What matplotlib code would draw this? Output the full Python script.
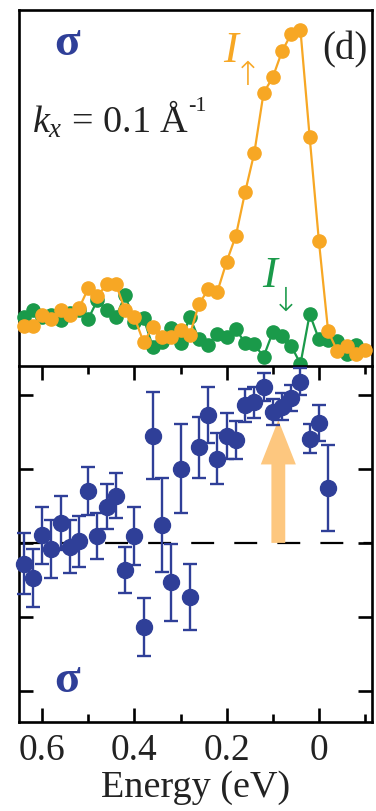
import numpy as np
import matplotlib
matplotlib.use("Agg")
import matplotlib.pyplot as plt
from matplotlib.patches import FancyArrow

plt.rcParams['font.family'] = ['Liberation Serif', 'DejaVu Serif']
plt.rcParams['mathtext.fontset'] = 'custom'
plt.rcParams['mathtext.rm'] = 'Liberation Serif'
plt.rcParams['mathtext.it'] = 'Liberation Serif:italic'
plt.rcParams['lines.scale_dashes'] = False

# ---- spin-resolved intensities (arb. units) ----
energy_top = [0.64, 0.62, 0.60, 0.58, 0.56, 0.54, 0.52, 0.50, 0.48, 0.46,
              0.44, 0.42, 0.40, 0.38, 0.36, 0.34, 0.32, 0.30, 0.28, 0.26,
              0.24, 0.22, 0.20, 0.18, 0.16, 0.14, 0.12, 0.10, 0.08, 0.06,
              0.04, 0.02, 0.00, -0.02, -0.04, -0.06, -0.08, -0.10]
i_up = [11.2, 11.2, 14.3, 13.1, 15.7, 14.3, 16.2, 21.8, 19.7, 22.9,
        23.0, 15.7, 13.7, 6.7, 10.9, 8.1, 8.1, 10.1, 8.7, 17.4,
        21.5, 20.9, 29.3, 36.6, 48.8, 59.9, 76.7, 81.1, 88.4, 93.3,
        94.3, 64.2, 35.0, 9.7, 4.2, 5.6, 3.4, 4.5]
energy_dn = energy_top[:37]
i_down = [13.7, 15.7, 13.7, 14.3, 12.9, 14.8, 15.7, 13.2, 18.5, 15.7,
          13.7, 19.9, 12.4, 13.4, 5.4, 6.8, 10.8, 6.4, 13.8, 7.5,
          5.9, 9.0, 8.2, 10.3, 6.5, 6.1, 2.6, 9.5, 8.4, 5.6,
          0.6, 14.6, 7.5, 7.3, 7.0, 3.4, 5.9]

# ---- spin polarization with error bars ----
energy_pol = [0.64, 0.62, 0.60, 0.58, 0.56, 0.54, 0.52, 0.50, 0.48, 0.46,
              0.44, 0.42, 0.40, 0.38, 0.36, 0.34, 0.32, 0.30, 0.28, 0.26,
              0.24, 0.22, 0.20, 0.18, 0.16, 0.14, 0.12, 0.10, 0.08, 0.06,
              0.04, 0.02, 0.00, -0.02]
pol = [-0.28, -0.47, 0.10, -0.08, 0.27, -0.05, 0.02, 0.70, 0.09, 0.49,
       0.64, -0.37, 0.09, -1.14, 1.45, 0.24, -0.53, 1.00, -0.73, 1.29,
       1.73, 1.14, 1.45, 1.39, 1.86, 1.90, 2.11, 1.77, 1.84, 1.96,
       2.18, 1.41, 1.62, 0.74]
pol_err = [0.41, 0.39, 0.38, 0.39, 0.36, 0.36, 0.34, 0.32, 0.31, 0.30,
           0.30, 0.31, 0.39, 0.39, 0.59, 0.64, 0.52, 0.60, 0.45, 0.41,
           0.38, 0.35, 0.31, 0.26, 0.22, 0.21, 0.19, 0.18, 0.18, 0.18,
           0.18, 0.20, 0.24, 0.58]

arrow_energy = 0.088
arrow_top = 1.66

ORANGE = '#f7a724'
GREEN = '#1a9a4a'
BLUE = '#2f3f98'
ARROW = '#fdc77f'
TXT = '#222222'

W, H = 376, 811
fig = plt.figure(figsize=(W / 100, H / 100), dpi=100)

def frame(x0, y0, x1, y1):
    return [x0 / W, 1 - y1 / H, (x1 - x0) / W, (y1 - y0) / H]

ax_top = fig.add_axes(frame(19, 10, 372, 366))
ax_bot = fig.add_axes(frame(19, 366, 372, 722))

xlim = (0.65, -0.115)
for ax in (ax_top, ax_bot):
    ax.set_xlim(*xlim)
    for s in ax.spines.values():
        s.set_linewidth(1.9)
        s.set_color('black')

# top panel: intensities
ax_top.set_ylim(0, 100)
ax_top.plot(energy_dn, i_down, '-o', color=GREEN, lw=1.6, ms=9.5,
            mec=GREEN, clip_on=False, zorder=3)
ax_top.plot(energy_top, i_up, '-o', color=ORANGE, lw=1.6, ms=9.5,
            mec=ORANGE, clip_on=False, zorder=4)
ax_top.set_xticks([])
ax_top.set_yticks([])
ax_top.spines['bottom'].set_visible(False)

ax_top.text(0.136, 0.874, 'σ', transform=ax_top.transAxes, color=BLUE,
            fontsize=34, weight='bold', ha='center', va='baseline')
ax_top.text(0.989, 0.862, '(d)', transform=ax_top.transAxes, color=TXT,
            fontsize=28, ha='right', va='baseline')
ax_top.text(0.037, 0.657, r'$k_x$ = 0.1 Å', transform=ax_top.transAxes,
            color=TXT, fontsize=27.5, ha='left', va='baseline')
ax_top.text(0.478, 0.715, '-1', transform=ax_top.transAxes,
            color=TXT, fontsize=16, ha='left', va='baseline')
ax_top.text(0.578, 0.854, 'I', transform=ax_top.transAxes, color=ORANGE,
            fontsize=32, style='italic', ha='left', va='baseline')
ax_top.text(0.647, 0.790, '↑', transform=ax_top.transAxes, color=ORANGE,
            fontsize=24, family='DejaVu Sans', weight='light',
            ha='center', va='baseline')
ax_top.text(0.688, 0.222, 'I', transform=ax_top.transAxes, color=GREEN,
            fontsize=32, style='italic', ha='left', va='baseline')
ax_top.text(0.757, 0.155, '↓', transform=ax_top.transAxes, color=GREEN,
            fontsize=24, family='DejaVu Sans', weight='light',
            ha='center', va='baseline')

# bottom panel: polarization
ax_bot.set_ylim(-2.42, 2.39)
ax_bot.axhline(0, color='black', lw=1.6, dashes=(16.5, 14.5), zorder=1)
ax_bot.add_patch(FancyArrow(arrow_energy, 0, 0, arrow_top, width=0.03,
                            head_width=0.076, head_length=0.6,
                            length_includes_head=True, color=ARROW,
                            lw=0, zorder=2))
ax_bot.errorbar(energy_pol, pol, yerr=pol_err, fmt='o', color=BLUE,
                ms=11.5, mec=BLUE, elinewidth=1.7, capsize=4.8,
                capthick=1.7, clip_on=False, zorder=5)

ax_bot.set_xticks([0.6, 0.4, 0.2, 0.0])
ax_bot.set_xticklabels(['0.6', '0.4', '0.2', '0'])
ax_bot.set_xticks([0.5, 0.3, 0.1, -0.1], minor=True)
ax_bot.set_yticks([-2, -1, 0, 1, 2])
ax_bot.set_yticklabels([])
ax_bot.tick_params(axis='both', which='major', direction='in', length=10,
                   width=1.9, top=True, right=True, labelsize=27,
                   labelcolor=TXT, pad=8)
ax_bot.tick_params(axis='both', which='minor', direction='in', length=6,
                   width=1.9, top=True, right=True)
ax_bot.set_xlabel('Energy (eV)', fontsize=27.5, color=TXT, labelpad=2)

ax_bot.text(0.136, 0.084, 'σ', transform=ax_bot.transAxes, color=BLUE,
            fontsize=34, weight='bold', ha='center', va='baseline')

fig.savefig('out.png', dpi=100)
